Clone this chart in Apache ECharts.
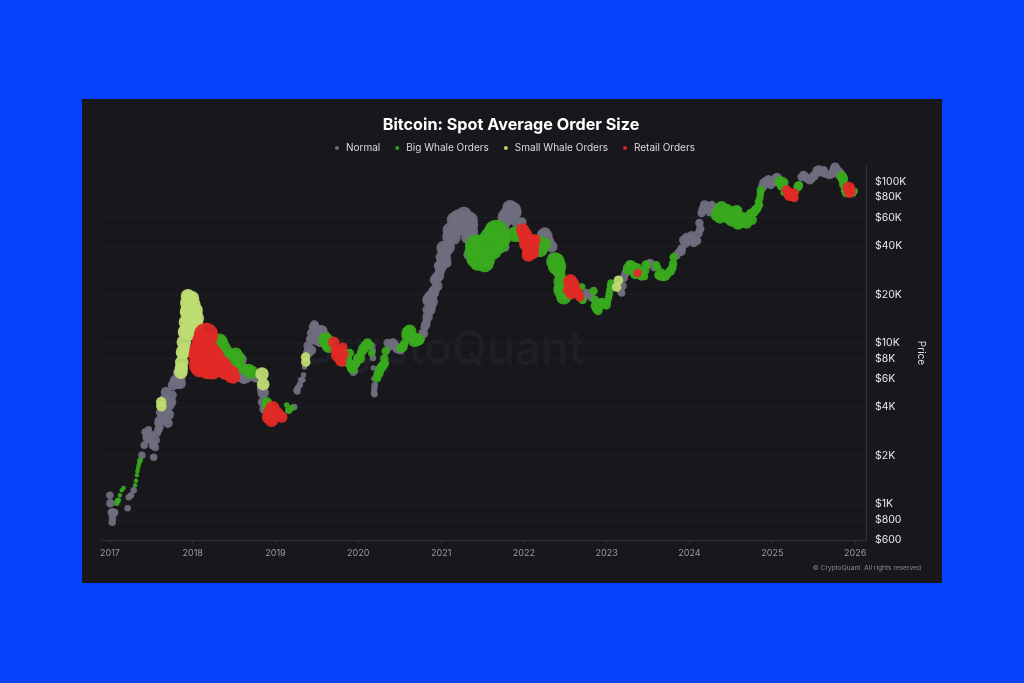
<!DOCTYPE html>
<html>
<head>
<meta charset="utf-8">
<title>Bitcoin: Spot Average Order Size</title>
<style>
html,body{margin:0;padding:0;background:#0341fb}
#chart{width:1024px;height:683px}
</style>
<script src="https://cdn.jsdelivr.net/npm/echarts@6/dist/echarts.min.js"></script>
</head>
<body>
<div id="chart"></div>
<script>
// [date, price, average order size reading]
const normalPoints = [
['2017-01-01',1137,6],['2017-01-03',1014,7],['2017-01-09',890,7],['2017-01-22',890,6],['2017-01-15',890,7],['2017-01-11',773,6],['2017-01-12',820,6],
['2017-03-20',945,5],['2017-03-25',1105,5],['2017-04-04',1137,5],['2017-04-16',1222,5],
['2017-05-22',2012,6],['2017-06-01',2320,6],['2017-06-05',2800,6],['2017-06-14',2495,6],['2017-06-26',2600,6],['2017-07-14',2390,6],['2017-07-13',1957,6],['2017-07-24',2495,6],['2017-08-02',2878,7],['2017-07-05',2700,6],['2017-07-20',2250,6],
['2017-06-10',2600,6],['2017-06-20',2900,6],['2017-07-01',2500,6],['2017-07-08',2300,6],['2017-07-28',2750,6],['2017-08-07',3000,7],
['2017-08-05',3320,7],['2017-08-03',3180,7],['2017-08-10',3700,7],['2017-08-22',3600,8],['2017-08-25',3300,8],['2017-09-01',4300,8],['2017-09-14',3180,8],['2017-09-10',3830,8],['2017-09-05',4960,9],['2017-08-28',4500,8],['2017-09-18',3600,9],['2017-09-23',4120,8],['2017-09-28',4300,9],['2017-10-02',4740,8],['2017-10-06',5460,9],['2017-10-15',5800,9],['2017-10-20',5900,10],['2017-10-28',5630,10],['2017-11-02',6500,11],['2017-11-05',6000,10],['2017-11-07',5600,10],
['2018-06-28',6700,8],['2018-07-20',6900,9],['2018-08-01',6900,11],['2018-08-05',7900,9],['2018-08-05',6300,10],['2018-08-08',6100,9],['2018-08-10',7000,10],['2018-08-15',6000,9],['2018-08-20',6700,11],['2018-08-25',6100,10],['2018-09-05',6600,10],['2018-09-28',6200,9],['2018-10-12',6100,9],
['2018-11-05',5200,10],['2018-11-08',4900,10],['2018-11-10',4300,10],['2018-11-14',3900,9],
['2019-03-25',4000,5],['2019-04-04',5095,5],['2019-04-08',5000,5],['2019-04-10',5250,5],['2019-04-18',5480,5],['2019-04-25',5900,5],['2019-05-02',5900,4],['2019-05-05',6320,4],['2019-05-09',7080,4],['2019-05-25',9600,8],['2019-05-27',8780,9],['2019-06-05',10500,8],['2019-06-09',9020,8],['2019-06-12',11500,9],['2019-06-14',10500,8],['2019-06-18',12540,8],['2019-06-22',12900,8],['2019-06-25',12200,9],['2019-06-28',11000,9],['2019-07-02',10400,9],['2019-07-08',11000,10],['2019-07-12',11600,9],['2019-07-18',10200,10],['2019-07-20',12000,9],['2019-07-28',12000,8],['2019-08-01',11000,9],['2019-08-08',11200,8],
['2019-12-05',6800,6],['2019-12-11',6590,6],['2019-12-18',6700,5],['2020-03-03',9600,5],['2020-03-05',9020,5],['2020-03-06',8060,5],['2020-03-08',7000,4],['2020-03-10',6000,4],['2020-03-14',5480,5],['2020-03-12',5200,5],['2020-03-11',4900,5],['2020-03-13',4800,5],
['2020-05-10',10000,7],['2020-05-20',9500,7],['2020-06-02',10000,8],['2020-06-12',9700,7],['2020-06-19',9160,7],['2020-06-25',9300,7],['2020-07-01',9200,7],['2020-07-05',9000,7],
['2020-10-05',10800,7],['2020-10-11',11500,7],['2020-10-15',11400,8],['2020-10-20',12500,7],['2020-10-25',13000,8],['2020-10-30',13850,7],['2020-11-02',14500,9],['2020-11-05',16000,10],['2020-11-08',18430,12],['2020-11-12',19000,11],['2020-11-14',16000,9],['2020-11-18',19500,11],['2020-11-21',16900,7],['2020-11-25',18000,9],['2020-11-28',20500,10],['2020-12-03',21300,9],['2020-12-05',24500,9],['2020-12-10',25000,10],['2020-12-15',22500,9],['2020-12-20',26000,10],['2020-12-25',30000,10],['2020-12-28',28300,9],
['2021-01-01',30000,11],['2021-01-04',34000,11],['2021-01-08',31000,11],['2021-01-12',38800,13],['2021-01-16',36000,12],['2021-01-20',33000,10],['2021-01-26',31300,8],['2021-02-01',39000,12],['2021-02-04',45300,12],['2021-02-10',50000,14],['2021-02-19',47700,15],['2021-02-25',45000,13],['2021-03-03',57800,15],['2021-03-10',55000,15],['2021-03-20',60000,15],['2021-03-28',52000,15],['2021-04-02',57000,15],['2021-04-11',62000,15],['2021-04-15',52000,12],['2021-04-20',60000,14],['2021-05-01',49000,12],['2021-05-07',57800,15],['2021-05-10',45000,10],['2021-05-15',48700,12],['2021-05-15',53900,12],['2021-05-28',43400,8],['2021-04-25',44700,10],['2021-04-30',35100,8],
['2021-10-04',44000,10],['2021-10-09',39300,8],['2021-10-01',53900,12],['2021-10-10',48000,11],['2021-10-15',60000,16],['2021-10-23',62000,16],['2021-11-01',68900,14],['2021-11-10',67000,14],['2021-11-15',67000,14],['2021-11-23',64900,12],['2021-11-30',56200,10],['2021-12-23',56200,8],
['2022-03-25',47000,10],['2022-04-03',47700,11],['2022-04-10',46000,11],['2022-04-18',43000,10],['2022-04-25',41000,10],['2022-05-04',39500,10],['2022-05-08',34000,8],
['2022-09-25',19500,7],['2022-10-05',20400,7],['2022-10-15',19600,6],['2022-10-28',19000,6],
['2023-03-03',21000,6],['2023-03-08',20400,6],['2023-02-28',22500,6],['2023-03-12',22500,7],['2023-03-17',25300,7],['2023-03-25',27000,7],['2023-04-01',29200,7],['2023-07-02',30500,7],['2023-07-11',31300,7],['2023-07-20',30800,6],['2023-07-30',29200,6],
['2023-11-05',35000,7],['2023-11-17',36600,7],['2023-11-25',37000,8],['2023-11-28',38500,7],['2023-12-07',43400,8],['2023-12-15',41500,8],['2023-12-20',45000,8],['2023-12-29',43400,8],['2024-01-02',44000,8],['2024-01-11',46500,7],['2024-01-20',41700,7],['2024-01-28',43000,8],['2024-02-04',43000,7],['2024-02-10',47700,7],['2024-02-14',55400,7],['2024-02-18',51000,7],['2024-02-24',63800,7],['2024-03-01',67000,8],['2024-03-08',71700,8],['2024-03-15',69000,8],['2024-03-25',70000,8],['2024-03-30',69000,9],['2024-04-02',65000,8],['2024-04-09',71700,7],['2024-04-15',69000,8],
['2024-11-20',93000,8],['2024-11-25',98200,8],['2024-12-05',100000,9],['2024-12-15',102000,9],['2024-12-25',96000,8],['2025-01-08',99800,8],['2025-01-14',102000,9],['2025-01-21',105500,9],['2025-01-28',100000,8],
['2025-05-10',107000,7],['2025-05-18',110000,7],['2025-05-25',108000,7],['2025-06-05',104000,7],['2025-06-16',102000,7],['2025-06-24',105000,7],['2025-06-30',108000,7],['2025-07-05',109000,8],['2025-07-16',117500,7],['2025-07-25',118000,8],['2025-08-01',115000,7],['2025-08-08',114000,7],['2025-08-15',117500,7],['2025-08-25',112000,7],['2025-09-08',109000,6],['2025-09-18',111000,7],['2025-09-25',114000,7],['2025-09-30',118000,8],['2025-10-05',123000,8],['2025-10-15',118000,7],['2025-10-22',110000,7],['2025-10-27',114000,7]
];

const bigWhalePoints = [
['2017-01-31',1014,4],['2017-02-03',1050,4],['2017-02-07',1060,4],['2017-02-14',1137,3],['2017-02-22',1222,3],['2017-03-02',1260,3],
['2017-04-22',1310,3],['2017-04-26',1400,3],['2017-04-30',1510,3],['2017-05-02',1600,3],['2017-05-05',1680,3],['2017-05-08',1745,3],['2017-05-11',1810,3],['2017-05-14',1875,4],
['2018-05-01',10300,13],['2018-05-09',10000,12],['2018-05-22',9300,11],['2018-06-08',8650,11],['2018-06-25',8300,10],['2018-07-05',7500,12],['2018-07-10',8500,12],['2018-07-22',8060,12],['2018-07-28',7080,10],['2018-08-30',6700,11],['2018-09-18',6590,12],['2018-09-05',6800,11],['2018-11-24',4290,9],['2018-11-28',4000,10],
['2019-02-20',4120,4],['2019-03-01',3830,6],['2019-03-14',3950,5],
['2019-08-10',10500,13],['2019-08-19',10100,14],['2019-08-25',9600,13],['2019-11-05',8600,8],['2019-11-12',8000,9],['2019-11-25',8650,7],['2019-11-20',7490,8],['2019-12-02',6990,8],['2019-12-08',6900,8],['2019-12-15',7300,8],['2019-12-22',7500,8],['2019-12-30',8060,8],['2020-01-08',8000,9],['2020-01-16',8780,8],['2020-01-24',9200,9],['2020-02-02',9600,9],['2020-02-11',10000,8],['2020-02-18',9700,8],['2020-03-01',8650,6],
['2020-03-24',6050,7],['2020-03-29',6400,8],['2020-04-02',6500,8],['2020-04-05',6780,8],['2020-04-10',7000,8],['2020-04-15',7100,8],['2020-04-20',7300,8],['2020-04-25',8000,7],['2020-04-28',7490,7],['2020-05-02',8900,7],
['2020-07-08',9300,8],['2020-07-16',9410,8],['2020-07-22',9900,7],['2020-07-26',10000,5],['2020-08-02',11000,9],['2020-08-08',11500,12],['2020-08-15',11800,12],['2020-08-22',11000,11],['2020-08-28',11000,9],['2020-09-05',10300,11],['2020-09-10',10600,10],['2020-09-17',10400,11],['2020-09-25',10500,10],
['2021-05-20',36800,15],['2021-05-28',33000,15],['2021-06-05',40000,21],['2021-06-12',31500,15],['2021-06-20',35100,25],['2021-06-28',40000,21],['2021-07-05',36000,21],['2021-07-12',31300,17],['2021-07-18',33000,17],['2021-07-26',38800,21],['2021-08-05',45000,19],['2021-08-15',38000,19],['2021-08-25',47500,21],['2021-09-01',48700,23],['2021-09-04',45300,23],['2021-09-15',41000,17],['2021-09-26',44700,17],['2021-11-23',47200,14],['2021-12-14',47200,14],
['2022-02-25',38000,12],['2022-03-05',42000,13],['2022-03-15',37700,13],['2022-03-28',40450,14],['2022-05-20',32000,17],['2022-05-27',30000,17],['2022-06-03',28000,12],['2022-06-09',26400,10],['2022-06-09',22200,10],['2022-06-12',24000,13],['2022-06-18',21300,16],['2022-06-25',21500,14],['2022-06-26',19300,14],['2022-07-05',20500,14],['2022-07-10',22500,12],
['2022-09-13',22200,6],['2022-09-17',18430,7],['2022-11-04',21000,7],['2022-11-10',18500,7],['2022-11-12',17000,8],['2022-11-19',16400,9],['2022-11-24',15900,8],['2022-11-28',17200,9],['2022-12-10',17700,9],['2022-12-20',17500,9],['2022-12-30',17200,8],
['2023-01-04',18000,6],['2023-01-09',19000,6],['2023-01-12',20000,6],['2023-01-15',21300,6],['2023-01-18',22500,6],['2023-01-20',23500,6],['2023-04-05',28500,9],['2023-04-12',30400,8],['2023-04-20',30000,10],['2023-04-29',28300,10],['2023-05-08',27000,10],['2023-05-15',29000,9],['2023-05-28',26400,8],['2023-06-05',26000,8],['2023-06-10',27500,7],['2023-06-17',25800,6],['2023-06-20',28000,7],['2023-06-24',30400,8],
['2023-08-08',30500,6],['2023-08-14',29200,6],['2023-08-17',26400,7],['2023-08-25',26000,8],['2023-08-31',27000,8],['2023-09-08',25800,8],['2023-09-18',26000,8],['2023-10-01',27100,7],['2023-10-10',28000,8],['2023-10-18',29200,7],['2023-10-21',31000,7],['2023-10-24',34000,7],
['2024-05-01',62000,11],['2024-05-10',65000,12],['2024-05-15',60000,11],['2024-05-22',68900,12],['2024-06-05',62000,12],['2024-06-15',66000,12],['2024-06-25',60000,12],['2024-07-07',57800,12],['2024-07-15',60000,12],['2024-07-21',64900,11],['2024-07-28',66000,10],['2024-08-03',55000,11],['2024-08-11',56200,11],['2024-08-20',59000,11],['2024-08-28',60000,9],['2024-09-02',56200,9],['2024-09-10',55000,9],['2024-09-20',60300,9],['2024-09-28',63000,9],['2024-10-02',58000,9],['2024-10-12',64900,8],['2024-10-20',67000,8],['2024-10-28',69000,7],['2024-11-01',75000,6],['2024-11-03',71700,7],['2024-11-07',79200,6],['2024-11-09',84000,6],['2024-11-11',88800,7],
['2025-02-05',100000,10],['2025-02-10',94000,8],['2025-02-16',98200,10],['2025-02-20',85300,5],['2025-04-15',87000,5],['2025-04-20',91400,5],['2025-04-24',93000,8],['2025-04-28',95000,7],
['2025-11-03',108000,9],['2025-11-08',104700,9],['2025-11-12',96000,8],['2025-11-17',88800,7],['2025-11-22',85000,7],['2025-12-10',86000,7],['2025-12-22',85000,6],['2025-12-30',87500,5]
];

const smallWhalePoints = [
['2017-08-15',4300,9],['2017-08-16',4050,9],
['2017-11-10',6580,12],['2017-11-12',7000,12],['2017-11-14',7600,12],['2017-11-19',8780,13],['2017-11-23',10100,13],['2017-11-25',9000,13],['2017-11-28',11700,13],['2017-12-02',13480,13],['2017-12-05',12000,13],['2017-12-07',15550,13],['2017-12-08',17700,13],['2017-12-11',19500,13],['2017-12-12',16000,14],['2017-12-15',18000,14],['2017-12-16',14000,14],['2017-12-18',19000,13],['2017-12-20',16500,14],['2017-12-24',12750,13],['2017-12-28',11500,13],['2017-12-29',18950,13],['2018-01-02',15000,14],['2018-01-06',17420,12],['2018-01-06',14230,13],['2018-01-10',15000,14],['2018-01-11',12750,13],['2018-01-14',15980,13],['2018-01-16',13000,13],['2018-01-19',14230,13],
['2018-11-03',6420,12],['2018-11-08',5550,11],
['2019-05-14',8170,8],['2019-05-15',7600,8],
['2023-02-22',24500,8],['2023-02-14',22200,8]
];

const retailPoints = [
['2018-01-29',7290,19],['2018-02-01',8400,21],['2018-02-01',6990,17],['2018-02-10',9000,23],['2018-02-15',7200,21],['2018-02-19',10000,23],['2018-02-24',7820,21],['2018-03-01',11200,23],['2018-03-05',8300,23],['2018-03-09',9020,21],['2018-03-10',6900,19],['2018-03-15',8600,21],['2018-03-22',7000,19],['2018-03-26',7820,19],['2018-03-30',6780,17],['2018-04-05',7300,17],['2018-04-12',8400,15],['2018-04-20',7000,17],['2018-05-01',7600,15],['2018-05-10',6900,15],['2018-05-18',7290,14],['2018-05-25',6600,14],['2018-06-05',6780,13],['2018-06-12',6500,13],['2018-06-18',6220,12],['2018-06-27',6590,11],['2018-06-30',6150,12],
['2018-12-04',3470,13],['2018-12-10',3700,13],['2018-12-15',3320,12],['2018-12-19',3940,13],['2018-12-25',3700,12],['2019-01-07',3680,11],['2019-01-15',3600,10],['2019-01-29',3470,10],
['2019-09-15',10100,10],['2019-09-25',9000,9],['2019-10-03',8400,12],['2019-10-10',8900,11],['2019-10-15',7800,10],['2019-10-20',7600,8],['2019-10-25',9410,8],['2019-10-28',8500,9],
['2021-12-26',50100,12],['2022-01-05',47000,13],['2022-01-13',43400,14],['2022-01-21',35100,12],['2022-01-22',41700,18],['2022-01-27',36800,14],['2022-01-30',42000,16],['2022-02-01',38000,14],['2022-02-09',39500,12],['2022-02-12',36000,10],['2022-02-19',43400,10],
['2022-07-17',21300,10],['2022-07-25',24000,13],['2022-07-28',20000,9],['2022-08-01',22900,14],['2022-08-10',21500,11],['2022-08-23',20700,9],['2022-08-30',20000,8],['2022-09-04',19300,8],
['2023-05-18',27100,7],
['2025-03-05',88800,8],['2025-03-12',85000,9],['2025-03-19',82700,11],['2025-03-28',84000,9],['2025-04-02',81000,7],['2025-04-08',79200,7],['2025-04-09',85300,7],
['2025-12-04',91400,11],['2025-12-08',86000,10],['2025-12-18',88800,6]
];

const priceTicks = [600,800,1000,2000,4000,6000,8000,10000,20000,40000,60000,80000,100000];

const bubbleBase = 1.5;
const fontName = 'Inter, "Noto Sans", sans-serif';
const oneDay = 24 * 3600 * 1000;

function scatter(name, color, points) {
    return {
        name: name,
        type: 'scatter',
        data: points,
        symbol: 'circle',
        symbolSize: function (v) { return v[2] + bubbleBase; },
        itemStyle: { color: color, opacity: 0.95 },
        clip: false
    };
}

const myChart = echarts.init(document.getElementById('chart'));
const option = {
    animation: false,
    backgroundColor: '#0341fb',
    textStyle: { fontFamily: fontName },
    title: {
        text: 'Bitcoin: Spot Average Order Size',
        left: 506, top: 112, textAlign: 'center',
        textStyle: { color: '#ffffff', fontSize: 16.2, fontWeight: 700, fontFamily: fontName }
    },
    legend: {
        top: 138, left: 330,
        icon: 'circle', itemWidth: 4, itemHeight: 4, itemGap: 15,
        textStyle: { color: '#dcdce0', fontSize: 10, fontFamily: fontName, padding: [0, 0, 0, 2] },
        data: ['Normal', 'Big Whale Orders', 'Small Whale Orders', 'Retail Orders']
    },
    grid: { left: 102, right: 158, top: 166, bottom: 143 },
    xAxis: {
        type: 'time',
        min: '2016-11-27',
        max: '2026-02-18',
        splitNumber: 10,
        minInterval: 300 * oneDay,
        axisLine: { show: true, lineStyle: { color: '#32323c' } },
        axisTick: { show: true, length: 3, lineStyle: { color: '#32323c' } },
        axisLabel: {
            color: '#9a9aa2', fontSize: 9, margin: 9, fontFamily: fontName,
            showMinLabel: false, showMaxLabel: false,
            formatter: '{yyyy}'
        },
        splitLine: { show: false }
    },
    yAxis: {
        type: 'log',
        position: 'right',
        min: 600,
        max: 125000,
        name: 'Price',
        nameLocation: 'middle',
        nameGap: 50,
        nameMoveOverlap: false,
        nameRotate: -90,
        nameTextStyle: { color: '#dcdce0', fontSize: 10, fontFamily: fontName },
        axisLine: { show: true, lineStyle: { color: '#32323c' } },
        axisTick: { show: false, customValues: priceTicks },
        axisLabel: {
            color: '#e6e6ea', fontSize: 10.5, margin: 9, fontFamily: fontName,
            customValues: priceTicks,
            formatter: function (v) {
                return v >= 1000 ? '$' + Math.round(v / 1000) + 'K' : '$' + Math.round(v);
            }
        },
        splitLine: { show: true, lineStyle: { color: '#1d1d23', width: 1 } },
        minorSplitLine: { show: false }
    },
    graphic: [
        { type: 'rect', z: -10, silent: true, shape: { x: 82, y: 99, width: 860, height: 484 }, style: { fill: '#17171c' } },
        { type: 'text', z: -5, silent: true, x: 443, y: 350, style: { text: 'CryptoQuant', fill: '#1f1f25', font: '500 46px Inter, sans-serif', align: 'center', verticalAlign: 'middle' } },
        { type: 'text', silent: true, x: 921, y: 568, style: { text: '© CryptoQuant. All rights reserved', fill: '#8a8a92', font: '6.6px Inter, sans-serif', align: 'right', verticalAlign: 'middle' } }
    ],
    series: [
        scatter('Normal', '#6f6e7e', normalPoints),
        scatter('Big Whale Orders', '#39a91f', bigWhalePoints),
        scatter('Small Whale Orders', '#bedc72', smallWhalePoints),
        scatter('Retail Orders', '#e02a26', retailPoints)
    ]
};
myChart.setOption(option);
</script>
</body>
</html>
